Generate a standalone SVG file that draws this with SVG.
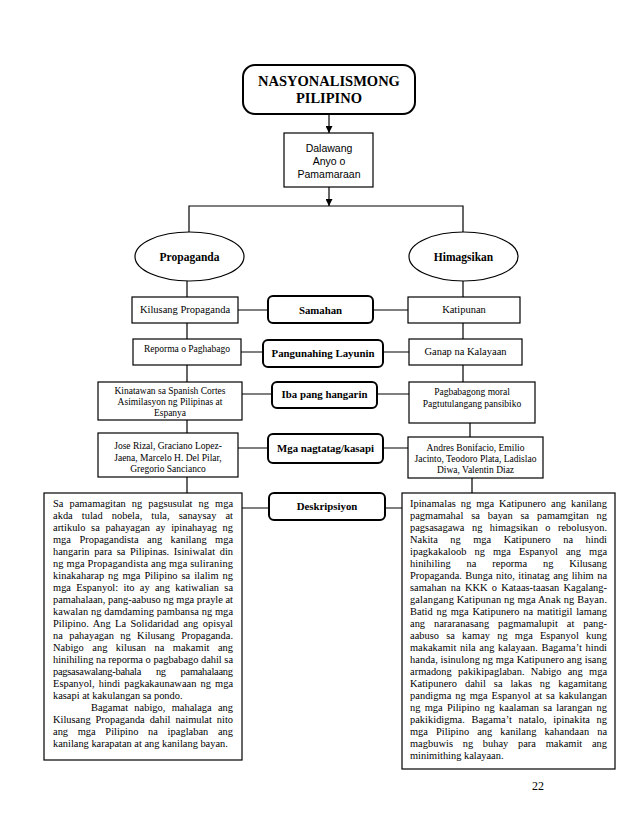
<svg xmlns="http://www.w3.org/2000/svg" width="638" height="826" viewBox="0 0 638 826">
<style>
.bx{fill:#fff;stroke:#000;stroke-width:1.2}
.rb{fill:#fff;stroke:#000;stroke-width:2}
.el{fill:#fff;stroke:#000;stroke-width:1.2}
.ln{fill:none;stroke:#000;stroke-width:1.2}
.s{font-family:"Liberation Serif","Times New Roman",serif;fill:#000}
.c{text-anchor:middle}
.b{font-weight:bold}
.p{font-size:10.4px}
.m{font-size:9.5px}
.n{font-size:10.5px}
.h{font-size:10.8px;font-weight:bold}
.sans{font-family:"Liberation Sans",Arial,sans-serif;font-size:10.5px;fill:#000;text-anchor:middle}
</style>
<defs>
<marker id="ar" markerUnits="userSpaceOnUse" markerWidth="7" markerHeight="7" refX="7" refY="3.5" orient="auto">
<path d="M0,0 L7,3.5 L0,7 z" fill="#000"/>
</marker>
</defs>
<rect width="638" height="826" fill="#fff"/>
<g id="connectors">
<line class="ln" x1="329" y1="114" x2="329" y2="133" marker-end="url(#ar)"/>
<line class="ln" x1="329" y1="187" x2="329" y2="206" marker-end="url(#ar)"/>
<path class="ln" d="M189,232 V206 H463 V232"/>
<path class="ln" d="M187,281 V297 M187,323 V339 M187,365 V382 M187,420 V433 M187,477 V493"/>
<path class="ln" d="M463,281 V297 M463,323 V339 M463,365 V382 M470,423 V437 M472,478 V493"/>
<path class="ln" d="M238,310 H268 M373,310 H408"/>
<path class="ln" d="M241,352 H263 M383,352 H409"/>
<path class="ln" d="M242,394 H272 M377,394 H409"/>
<path class="ln" d="M238,448 H268 M383,448 H408"/>
<path class="ln" d="M242,508 H269 M385,508 H402"/>
</g>
<g id="nasyonalismo">
<rect class="rb" x="243" y="65" width="172" height="49" rx="12"/>
<text class="s c b" x="329" y="86" font-size="14.5">NASYONALISMONG</text>
<text class="s c b" x="329" y="103" font-size="14.5">PILIPINO</text>
</g>
<g id="dalawang">
<rect class="bx" x="284" y="133" width="89" height="54"/>
<text class="sans" x="329" y="152">Dalawang</text>
<text class="sans" x="329" y="165">Anyo o</text>
<text class="sans" x="329" y="178">Pamamaraan</text>
</g>
<g id="propaganda">
<ellipse class="el" cx="189.5" cy="256.5" rx="54.5" ry="24.5"/>
<text class="s c b" x="189.5" y="260.5" font-size="11.5">Propaganda</text>
</g>
<g id="himagsikan">
<ellipse class="el" cx="463.5" cy="256.5" rx="54.5" ry="24.5"/>
<text class="s c b" x="463.5" y="260.5" font-size="11.5">Himagsikan</text>
</g>
<g id="kilusang">
<rect class="bx" x="132" y="297" width="106" height="26"/>
<text class="s c n" x="185" y="313">Kilusang Propaganda</text>
</g>
<g id="samahan">
<rect class="rb" x="268" y="296" width="105" height="27" rx="5"/>
<text class="s c h" x="320.5" y="314">Samahan</text>
</g>
<g id="katipunan">
<rect class="bx" x="408" y="297" width="112" height="26"/>
<text class="s c n" x="464" y="313">Katipunan</text>
</g>
<g id="reporma">
<rect class="bx" x="133" y="339" width="108" height="26"/>
<text class="s c m" x="187" y="352">Reporma o Paghabago</text>
</g>
<g id="layunin">
<rect class="rb" x="263" y="340" width="120" height="27" rx="5"/>
<text class="s c h" x="323" y="357">Pangunahing Layunin</text>
</g>
<g id="ganap">
<rect class="bx" x="409" y="339" width="113" height="26"/>
<text class="s c n" x="465.5" y="355">Ganap na Kalayaan</text>
</g>
<g id="kinatawan">
<rect class="bx" x="98" y="382" width="144" height="38"/>
<text class="s c m" x="170" y="393.5">Kinatawan sa Spanish Cortes</text>
<text class="s c m" x="170" y="405">Asimilasyon ng Pilipinas at</text>
<text class="s c m" x="170" y="416">Espanya</text>
</g>
<g id="hangarin">
<rect class="rb" x="272" y="382" width="105" height="26" rx="5"/>
<text class="s c h" x="324.5" y="398">Iba pang hangarin</text>
</g>
<g id="pagbabagong">
<rect class="bx" x="409" y="382" width="126" height="41"/>
<text class="s c m" x="472" y="395">Pagbabagong moral</text>
<text class="s c m" x="472" y="407">Pagtutulangang pansibiko</text>
</g>
<g id="jose">
<rect class="bx" x="98" y="433" width="140" height="44"/>
<text class="s c m" x="168" y="449">Jose Rizal, Graciano Lopez-</text>
<text class="s c m" x="168" y="460.5">Jaena, Marcelo H. Del Pilar,</text>
<text class="s c m" x="168" y="472">Gregorio Sancianco</text>
</g>
<g id="nagtatag">
<rect class="rb" x="268" y="434" width="115" height="29" rx="5"/>
<text class="s c h" x="325.5" y="452">Mga nagtatag/kasapi</text>
</g>
<g id="andres">
<rect class="bx" x="408" y="437" width="135" height="41"/>
<text class="s c m" x="475.5" y="451">Andres Bonifacio, Emilio</text>
<text class="s c m" x="475.5" y="462">Jacinto, Teodoro Plata, Ladislao</text>
<text class="s c m" x="475.5" y="473">Diwa, Valentin Diaz</text>
</g>
<g id="deskripsiyon">
<rect class="rb" x="269" y="493" width="116" height="27" rx="5"/>
<text class="s c h" x="327" y="510">Deskripsiyon</text>
</g>
<g id="propaganda-deskripsiyon">
<rect class="bx" x="44" y="493" width="198" height="267"/>
<g class="s p">
<text x="53" y="507" textLength="180" lengthAdjust="spacing" word-spacing="3.4">Sa pamamagitan ng pagsusulat ng mga</text>
<text x="53" y="519" textLength="180" lengthAdjust="spacing" word-spacing="6.4">akda tulad nobela, tula, sanaysay at</text>
<text x="53" y="531" textLength="180" lengthAdjust="spacing" word-spacing="3">artikulo sa pahayagan ay ipinahayag ng</text>
<text x="53" y="543" textLength="180" lengthAdjust="spacing" word-spacing="5.8">mga Propagandista ang kanilang mga</text>
<text x="53" y="555" textLength="180" lengthAdjust="spacing" word-spacing="2">hangarin para sa Pilipinas. Isiniwalat din</text>
<text x="53" y="567" textLength="180" lengthAdjust="spacing">ng mga Propagandista ang mga suliraning</text>
<text x="53" y="579" textLength="180" lengthAdjust="spacing" word-spacing="1.3">kinakaharap ng mga Pilipino sa ilalim ng</text>
<text x="53" y="591" textLength="180" lengthAdjust="spacing" word-spacing="2.6">mga Espanyol: ito ay ang katiwalian sa</text>
<text x="53" y="603" textLength="180" lengthAdjust="spacing">pamahalaan, pang-aabuso ng mga prayle at</text>
<text x="53" y="615" textLength="180" lengthAdjust="spacing">kawalan ng damdaming pambansa ng mga</text>
<text x="53" y="627" textLength="180" lengthAdjust="spacing" word-spacing="1.8">Pilipino. Ang La Solidaridad ang opisyal</text>
<text x="53" y="639" textLength="180" lengthAdjust="spacing" word-spacing="3.8">na pahayagan ng Kilusang Propaganda.</text>
<text x="53" y="651" textLength="180" lengthAdjust="spacing" word-spacing="5.8">Nabigo ang kilusan na makamit ang</text>
<text x="53" y="663" textLength="180" lengthAdjust="spacing">hinihiling na reporma o pagbabago dahil sa</text>
<text x="53" y="675" textLength="180" lengthAdjust="spacing" word-spacing="12.4">pagsasawalang-bahala ng pamahalaang</text>
<text x="53" y="687" textLength="180" lengthAdjust="spacing" word-spacing="1.4">Espanyol, hindi pagkakaunawaan ng mga</text>
<text x="53" y="699">kasapi at kakulangan sa pondo.</text>
<text x="91" y="711" textLength="142" lengthAdjust="spacing" word-spacing="3.6">Bagamat nabigo, mahalaga ang</text>
<text x="53" y="723" textLength="180" lengthAdjust="spacing" word-spacing="2.3">Kilusang Propaganda dahil naimulat nito</text>
<text x="53" y="735" textLength="180" lengthAdjust="spacing" word-spacing="7">ang mga Pilipino na ipaglaban ang</text>
<text x="53" y="747">kanilang karapatan at ang kanilang bayan.</text>
</g>
</g>
<g id="himagsikan-deskripsiyon">
<rect class="bx" x="402" y="493" width="213" height="276"/>
<g class="s p">
<text x="410" y="507" textLength="197" lengthAdjust="spacing" word-spacing="2.3">Ipinamalas ng mga Katipunero ang kanilang</text>
<text x="410" y="519" textLength="197" lengthAdjust="spacing" word-spacing="5.2">pagmamahal sa bayan sa pamamgitan ng</text>
<text x="410" y="531" textLength="197" lengthAdjust="spacing" word-spacing="4.8">pagsasagawa ng himagsikan o rebolusyon.</text>
<text x="410" y="543" textLength="197" lengthAdjust="spacing" word-spacing="9.8">Nakita ng mga Katipunero na hindi</text>
<text x="410" y="555" textLength="197" lengthAdjust="spacing" word-spacing="5.4">ipagkakaloob ng mga Espanyol ang mga</text>
<text x="410" y="567" textLength="197" lengthAdjust="spacing" word-spacing="13.2">hinihiling na reporma ng Kilusang</text>
<text x="410" y="579" textLength="197" lengthAdjust="spacing" word-spacing="0.8">Propaganda. Bunga nito, itinatag ang lihim na</text>
<text x="410" y="591" textLength="197" lengthAdjust="spacing" word-spacing="1.6">samahan na KKK o Kataas-taasan Kagalang-</text>
<text x="410" y="603" textLength="197" lengthAdjust="spacing">galangang Katipunan ng mga Anak ng Bayan.</text>
<text x="410" y="615" textLength="197" lengthAdjust="spacing" word-spacing="1.1">Batid ng mga Katipunero na matitigil lamang</text>
<text x="410" y="627" textLength="197" lengthAdjust="spacing" word-spacing="6.3">ang nararanasang pagmamalupit at pang-</text>
<text x="410" y="639" textLength="197" lengthAdjust="spacing" word-spacing="4.5">aabuso sa kamay ng mga Espanyol kung</text>
<text x="410" y="651" textLength="197" lengthAdjust="spacing" word-spacing="1">makakamit nila ang kalayaan. Bagama’t hindi</text>
<text x="410" y="663" textLength="197" lengthAdjust="spacing">handa, isinulong ng mga Katipunero ang isang</text>
<text x="410" y="675" textLength="197" lengthAdjust="spacing" word-spacing="3.6">armadong pakikipaglaban. Nabigo ang mga</text>
<text x="410" y="687" textLength="197" lengthAdjust="spacing" word-spacing="5.3">Katipunero dahil sa lakas ng kagamitang</text>
<text x="410" y="699" textLength="197" lengthAdjust="spacing" word-spacing="1.3">pandigma ng mga Espanyol at sa kakulangan</text>
<text x="410" y="711" textLength="197" lengthAdjust="spacing" word-spacing="1.6">ng mga Pilipino ng kaalaman sa larangan ng</text>
<text x="410" y="723" textLength="197" lengthAdjust="spacing" word-spacing="4">pakikidigma. Bagama’t natalo, ipinakita ng</text>
<text x="410" y="735" textLength="197" lengthAdjust="spacing" word-spacing="5.4">mga Pilipino ang kanilang kahandaan na</text>
<text x="410" y="747" textLength="197" lengthAdjust="spacing" word-spacing="7">magbuwis ng buhay para makamit ang</text>
<text x="410" y="759">minimithing kalayaan.</text>
</g>
</g>
<text class="s c" x="538" y="790" font-size="12">22</text>
</svg>
